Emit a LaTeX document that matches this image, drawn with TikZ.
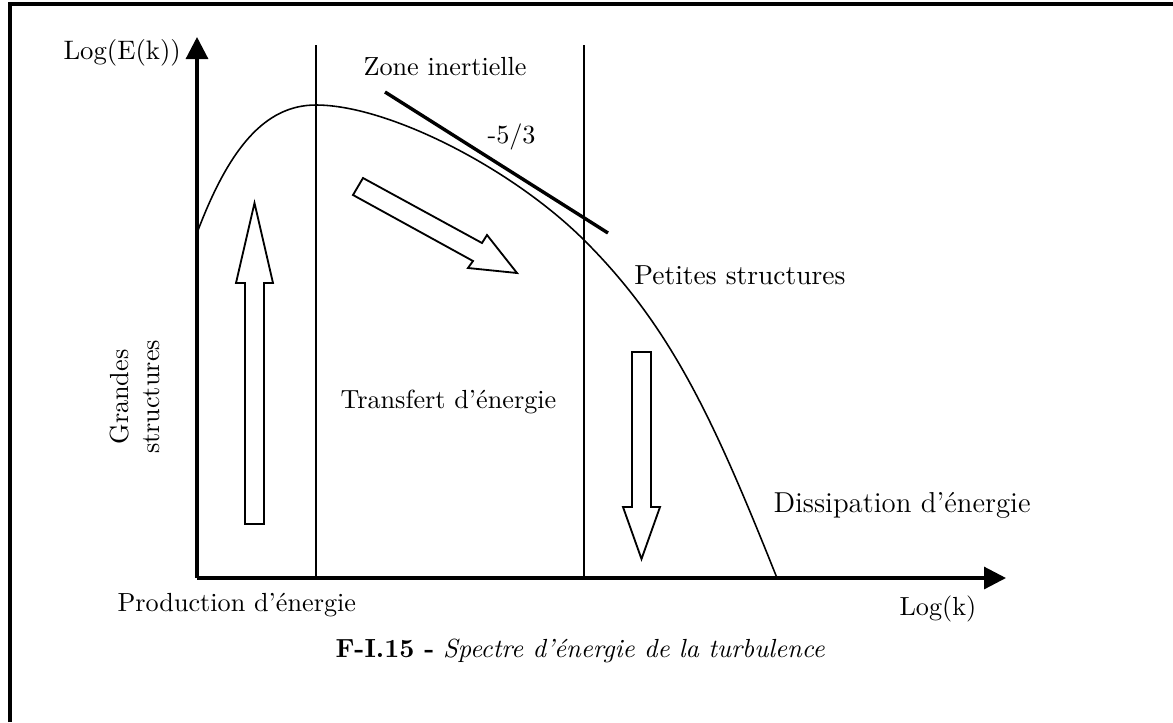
\documentclass[tikz,border=0pt]{standalone}
\usetikzlibrary{arrows.meta}
\tikzset{
  frameline/.style={line width=1.3pt},
  axisline/.style={line width=1.2pt,-{Triangle[length=8.4pt,width=8.4pt]}},
  thinline/.style={line width=0.6pt},
  slopeline/.style={line width=1.3pt},
  blockarrow/.style={line width=0.7pt,fill=white,line join=miter},
  lbl/.style={inner sep=0pt,font=\fontsize{10}{12}\selectfont}
}
\begin{document}
\begin{tikzpicture}[x=0.3817pt,y=-0.3817pt]
\useasboundingbox (0,0) rectangle (1173,722);
% frame
\coordinate (fbl) at (10,722);
\coordinate (ftl) at (10,4);
\coordinate (ftr) at (1173,4);
\draw[frameline] (fbl) -- (ftl) -- (ftr);
% axes
\coordinate (O) at (197,578);
\coordinate (ytip) at (197,37);
\coordinate (xtip) at (1006,578);
\draw[axisline] (O) -- (ytip);
\draw[axisline] (O) -- (xtip);
% vertical separators
\coordinate (v1t) at (316,45);
\coordinate (v1b) at (316,578);
\coordinate (v2t) at (584,45);
\coordinate (v2b) at (584,578);
\draw[thinline] (v1t) -- (v1b);
\draw[thinline] (v2t) -- (v2b);
% spectrum curve
\coordinate (c0) at (197,233);
\coordinate (cpk) at (316,105);
\coordinate (cm) at (585,241);
\coordinate (cend) at (777,578);
\draw[thinline] (c0) .. controls (229,148) and (265,105) .. (cpk)
  .. controls (388,105) and (512,168) .. (cm)
  .. controls (672,328) and (714,420.5) .. (cend);
% -5/3 slope
\coordinate (s1) at (385,92);
\coordinate (s2) at (608,233);
\draw[slopeline] (s1) -- (s2);
% block arrows
\draw[blockarrow] (245,524) -- (264,524) -- (264,283) -- (273,283) -- (254.5,203)
  -- (236,283) -- (245,283) -- cycle;
\draw[blockarrow] (632,352) -- (651,352) -- (651,507) -- (660,507) -- (641.5,559)
  -- (623,507) -- (632,507) -- cycle;
\draw[blockarrow] (363,178) -- (482,243) -- (487,235) -- (517,273) -- (468,268)
  -- (473,261) -- (353,195) -- cycle;
% labels
\node[lbl,anchor=base west,font=\fontsize{10.2}{12}\selectfont] (ylab) at (63,59) {Log(E(k))};
\node[lbl,anchor=base west] (zone) at (363,75) {Zone inertielle};
\node[lbl,anchor=base west] (slope) at (487,143) {-5/3};
\node[lbl,anchor=base east,font=\fontsize{10.5}{12}\selectfont] (petites) at (846,284) {Petites structures};
\node[lbl,anchor=base west] (transfert) at (340,408) {Transfert d’énergie};
\node[lbl,anchor=base west,font=\fontsize{11}{13}\selectfont] (dissip) at (773,512) {Dissipation d’énergie};
\node[lbl,rotate=90,align=center] (grandes) at (135,397) {Grandes\\structures};
\node[lbl,anchor=base west] (prod) at (117,611) {Production d’énergie};
\node[lbl,anchor=base west] (xlab) at (899,615) {Log(k)};
\node[lbl,anchor=base west] (caption) at (335,657) {\textbf{F-I.15 -} \textit{Spectre d’énergie de la turbulence}};
\end{tikzpicture}
\end{document}
